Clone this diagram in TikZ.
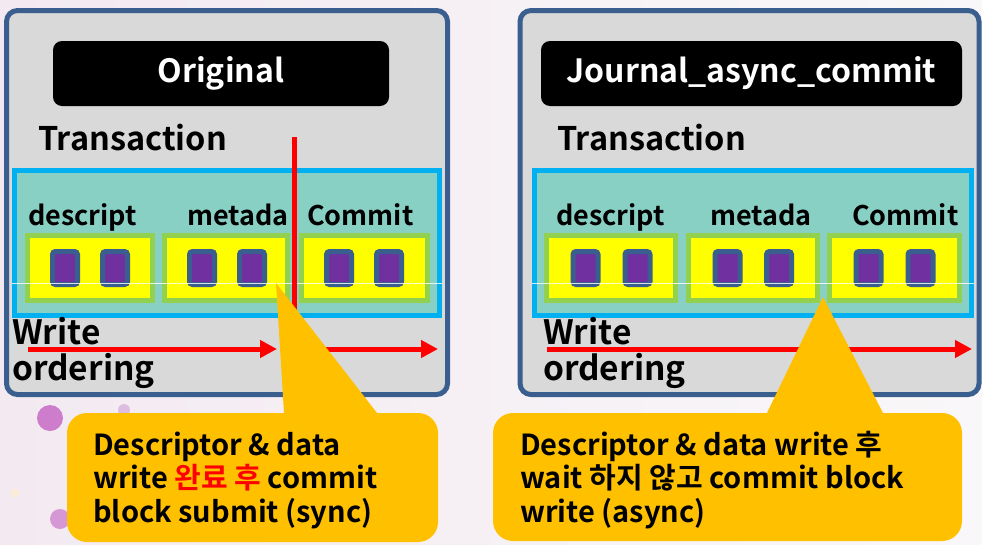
\documentclass[tikz,border=0pt]{standalone}
\usepackage{fontspec}
\setmainfont{Noto Sans CJK KR}[BoldFont={Noto Sans CJK KR Bold}]
\usetikzlibrary{arrows.meta}

\definecolor{bgL}{HTML}{F3EAF1}
\definecolor{bgR}{HTML}{F9F7F9}
\definecolor{panelfill}{HTML}{D9D9D9}
\definecolor{panelline}{HTML}{3A5F8F}
\definecolor{txline}{HTML}{00B0F0}
\definecolor{txfill}{HTML}{88CFC4}
\definecolor{grpline}{HTML}{92D050}
\definecolor{grpfill}{HTML}{FFFF00}
\definecolor{blkfill}{HTML}{7030A0}
\definecolor{calloutfill}{HTML}{FFC000}
\definecolor{ordred}{HTML}{FF0000}
\definecolor{dotpurple}{HTML}{C462C2}
\definecolor{dotlilac}{HTML}{D9B2DF}
\definecolor{dotcream}{HTML}{FCEBD6}

\tikzset{
  panel/.style={draw=panelline, line width=5pt, fill=panelfill, rounded corners=11pt,
    inner sep=0pt, outer sep=0pt},
  titlebox/.style={fill=black, rounded corners=9pt, text=white, inner sep=0pt,
    font=\bfseries\fontsize{32}{32}\selectfont, minimum height=65pt},
  txbox/.style={draw=txline, line width=5pt, fill=txfill, inner sep=0pt,
    minimum height=145pt},
  grpbox/.style={draw=grpline, line width=5pt, fill=grpfill, inner sep=0pt,
    minimum height=65pt},
  blk/.style={draw=panelline, line width=5pt, fill=blkfill, rounded corners=3pt,
    inner sep=0pt, minimum width=25pt, minimum height=33pt},
  heading/.style={anchor=base west, inner sep=0pt, font=\bfseries\fontsize{32.5}{32.5}\selectfont},
  grplabel/.style={anchor=base west, inner sep=0pt, font=\bfseries\fontsize{27}{27}\selectfont},
  % multi-line labels are placed by the baseline of their last line
  ordlabel/.style={anchor=base west, inner sep=0pt, align=left,
    font=\bfseries\fontsize{33.5}{36}\selectfont},
  ordarrow/.style={draw=ordred, line width=5pt, -{Triangle[length=17pt,width=17pt]}},
  callout/.style={fill=calloutfill, rounded corners=20pt, inner sep=0pt},
  callouttext/.style={anchor=base west, inner sep=0pt, align=left,
    font=\bfseries\fontsize{29}{33.5}\selectfont},
  blob/.style={circle, inner sep=0pt},
}

\begin{document}
\begin{tikzpicture}[x=1pt,y=-1pt]
  % page background
  \shade[left color=bgL, right color=bgR] (0,0) rectangle (982,544);
  \useasboundingbox (0,0) rectangle (982,544);

  % soft decorative dots on the background
  \node[blob, fill=dotpurple, opacity=0.8, minimum size=26pt] (d1) at (50,418) {};
  \node[blob, fill=dotlilac, opacity=0.8, minimum size=12pt] (d2) at (124,410) {};
  \node[blob, fill=dotpurple, opacity=0.6, minimum size=20pt] (d3) at (60,519) {};
  \node[blob, fill=dotcream, minimum size=9pt] (d4) at (15,493) {};

  % ---------------- left panel: Original ----------------
  \node[panel, minimum width=441pt, minimum height=384pt] (pL) at (227,202.5) {};
  \node[titlebox, minimum width=336pt] (tL) at (221,73.5) {Original};
  \node[heading] (hL) at (38,150) {Transaction};
  \node[txbox, minimum width=425pt] (xL) at (227,243) {};
  \node[grplabel] (lL1) at (28,225) {descript};
  \node[grplabel] (lL2) at (187,225) {metada};
  \node[grplabel] (lL3) at (307,225) {Commit};
  \node[grpbox, minimum width=125pt] (gL1) at (90,268) {};
  \node[grpbox, minimum width=123pt] (gL2) at (226,268) {};
  \node[grpbox, minimum width=126pt] (gL3) at (364.5,268) {};
  \foreach \x/\n in {65/1,115/2,202/3,252/4,339/5,389/6}
    \node[blk] (bL\n) at (\x,268) {};
  \draw[white, line width=0.6pt, opacity=0.8] (xL.west |- 0,283) -- (xL.east |- 0,283);

  % commit barrier
  \coordinate (barTop) at (294,137);
  \coordinate (barBot) at (294,318);
  \draw[ordred, line width=5pt] (barTop) -- (barBot);

  \node[ordlabel] (oL) at (12,380) {Write\\ordering};
  \coordinate (aL1s) at (28,349);
  \coordinate (aL1e) at (277,349);
  \coordinate (aL2s) at (300,349);
  \coordinate (aL2e) at (438,349);
  \draw[ordarrow] (aL1s) -- (aL1e);
  \draw[ordarrow] (aL2s) -- (aL2e);

  % ---------------- right panel: Journal_async_commit ----------------
  \node[panel, minimum width=459pt, minimum height=384pt] (pR) at (749.5,202.5) {};
  \node[titlebox, minimum width=421pt] (tR) at (751.5,73.5) {Journal\_async\_commit};
  \node[heading] (hR) at (557,150) {Transaction};
  \node[txbox, minimum width=437pt] (xR) at (753,243) {};
  \node[grplabel] (lR1) at (556,225) {descript};
  \node[grplabel] (lR2) at (710,225) {metada};
  \node[grplabel] (lR3) at (852,225) {Commit};
  \node[grpbox, minimum width=129pt] (gR1) at (611,268) {};
  \node[grpbox, minimum width=129pt] (gR2) at (753,268) {};
  \node[grpbox, minimum width=130pt] (gR3) at (894.5,268) {};
  \foreach \x/\n in {585.5/1,637.5/2,727.5/3,779/4,868.5/5,920.5/6}
    \node[blk] (bR\n) at (\x,268) {};
  \draw[white, line width=0.6pt, opacity=0.8] (xR.west |- 0,283) -- (xR.east |- 0,283);

  \node[ordlabel] (oR) at (543,380) {Write\\ordering};
  \coordinate (aRs) at (547,349);
  \coordinate (aRe) at (972,349);
  \draw[ordarrow] (aRs) -- (aRe);

  % ---------------- callouts ----------------
  \coordinate (tipL) at (276,283);
  \coordinate (tipR) at (823,297);
  \fill[calloutfill] (tipL) -- (377,413) -- (377,430) -- (286,430) -- (284,413) -- cycle;
  \fill[calloutfill] (tipR) -- (883,413) -- (883,430) -- (767,430) -- (767,413) -- cycle;
  \node[callout, minimum width=371pt, minimum height=129pt] (cL) at (252.5,477.5) {};
  \node[callout, minimum width=469pt, minimum height=128pt] (cR) at (727.5,477) {};

  \node[callouttext] (ctL) at (93,522)
    {Descriptor \& data\\write {\color{ordred}완료 후} commit\\block submit (sync)};
  \node[callouttext] (ctR) at (520,522)
    {Descriptor \& data write 후\\wait 하지 않고 commit block\\write (async)};
\end{tikzpicture}
\end{document}
